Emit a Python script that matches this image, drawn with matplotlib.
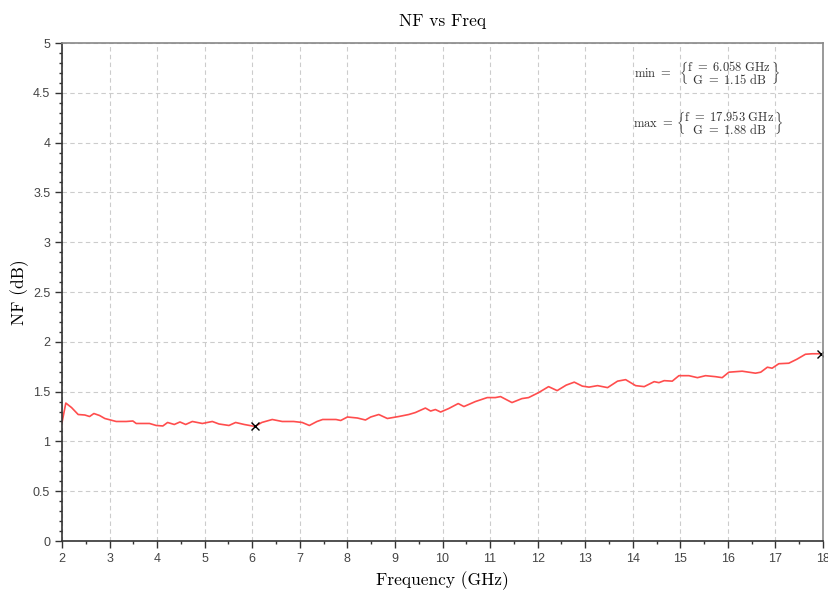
import numpy as np
import matplotlib.pyplot as plt
from matplotlib.ticker import MultipleLocator

# NF vs frequency
freq = [2.0, 2.08, 2.2, 2.34, 2.48, 2.58, 2.67, 2.79, 2.9, 3.14, 3.35, 3.49, 3.56,
        3.84, 3.98, 4.12, 4.22, 4.36, 4.48, 4.6, 4.74, 4.95, 5.16, 5.3, 5.51, 5.65,
        5.83, 6.058, 6.2, 6.42, 6.63, 6.87, 7.05, 7.2, 7.36, 7.48, 7.76, 7.86, 8.0,
        8.21, 8.38, 8.49, 8.66, 8.84, 9.08, 9.29, 9.43, 9.64, 9.75, 9.85, 9.96,
        10.13, 10.33, 10.45, 10.69, 10.94, 11.11, 11.22, 11.46, 11.67, 11.81, 12.02,
        12.23, 12.41, 12.6, 12.77, 12.94, 13.08, 13.26, 13.47, 13.68, 13.85, 14.06,
        14.24, 14.45, 14.55, 14.66, 14.83, 14.97, 15.18, 15.36, 15.53, 15.74, 15.88,
        16.02, 16.3, 16.58, 16.69, 16.83, 16.93, 17.07, 17.28, 17.45, 17.63, 17.77,
        17.87, 17.953, 18.0]
nf = [1.19, 1.385, 1.34, 1.27, 1.265, 1.25, 1.28, 1.26, 1.23, 1.20, 1.20, 1.205, 1.18,
      1.18, 1.16, 1.155, 1.19, 1.17, 1.195, 1.17, 1.2, 1.18, 1.2, 1.175, 1.16, 1.19,
      1.17, 1.15, 1.19, 1.22, 1.2, 1.2, 1.19, 1.16, 1.2, 1.22, 1.22, 1.21, 1.245,
      1.235, 1.215, 1.245, 1.27, 1.23, 1.25, 1.27, 1.29, 1.335, 1.305, 1.32, 1.295,
      1.33, 1.38, 1.35, 1.40, 1.44, 1.44, 1.45, 1.39, 1.43, 1.44, 1.49,
      1.55, 1.51, 1.565, 1.595, 1.555, 1.545, 1.56, 1.54, 1.605, 1.62, 1.56,
      1.55, 1.6, 1.59, 1.61, 1.605, 1.66, 1.66, 1.64, 1.66, 1.65, 1.64,
      1.695, 1.705, 1.685, 1.695, 1.745, 1.735, 1.78, 1.785, 1.825, 1.875, 1.88,
      1.88, 1.88, 1.875]

min_f, min_g = 6.058, 1.15
max_f, max_g = 17.953, 1.88

plt.rcParams['mathtext.fontset'] = 'cm'
fig = plt.figure(figsize=(8.29, 5.91), dpi=100)
ax = fig.add_axes([0.0748, 0.0846, 0.918, 0.8426])

ax.plot(freq, nf, color='#ff4d4d', lw=1.2)
ax.plot([min_f, max_f], [min_g, max_g], 'x', color='black', ms=6, mew=1.0)

ax.set_xlim(2, 18)
ax.set_ylim(0, 5)
ax.xaxis.set_major_locator(MultipleLocator(1))
ax.xaxis.set_minor_locator(MultipleLocator(0.5))
ax.yaxis.set_major_locator(MultipleLocator(0.5))
ax.yaxis.set_minor_locator(MultipleLocator(0.1))
ax.yaxis.set_major_formatter(plt.FuncFormatter(lambda v, p: f'{v:g}'))

ax.grid(True, which='major', color='#cccccc', ls=(0, (4, 3)), lw=0.8)
ax.set_axisbelow(True)
ax.tick_params(which='major', direction='out', length=5, width=1, color='#333333',
               labelsize=9, labelcolor='#444444')
ax.tick_params(which='minor', direction='out', length=2.5, width=1, color='#333333')
for lbl in ax.get_xticklabels() + ax.get_yticklabels():
    lbl.set_family('Liberation Sans')

for s in ['left', 'bottom']:
    ax.spines[s].set_color('#333333')
    ax.spines[s].set_linewidth(1.2)
for s in ['top', 'right']:
    ax.spines[s].set_color('#888888')
    ax.spines[s].set_linewidth(1.2)

ax.set_title('NF vs Freq', family='cmr10', fontsize=12.5, pad=12)
ax.set_xlabel('Frequency (GHz)', family='cmr10', fontsize=12.5, labelpad=5)
ax.set_ylabel('NF (dB)', family='cmr10', fontsize=12.5, labelpad=3)

fmt = r'$\genfrac{\{}{\}}{0}{0}{\mathrm{f\ =\ %.3f\ GHz}}{\mathrm{G\ =\ %.2f\ dB}}$'
ax.text(14.42, 4.69, r'$\mathrm{min\ =}$', fontsize=9, color='#333333',
        ha='center', va='center')
ax.text(16.03, 4.69, fmt % (min_f, min_g), fontsize=9, color='#333333',
        ha='center', va='center')
ax.text(14.42, 4.19, r'$\mathrm{max\ =}$', fontsize=9, color='#333333',
        ha='center', va='center')
ax.text(16.03, 4.19, fmt % (max_f, max_g), fontsize=9, color='#333333',
        ha='center', va='center')

fig.savefig('out.png', dpi=100)
